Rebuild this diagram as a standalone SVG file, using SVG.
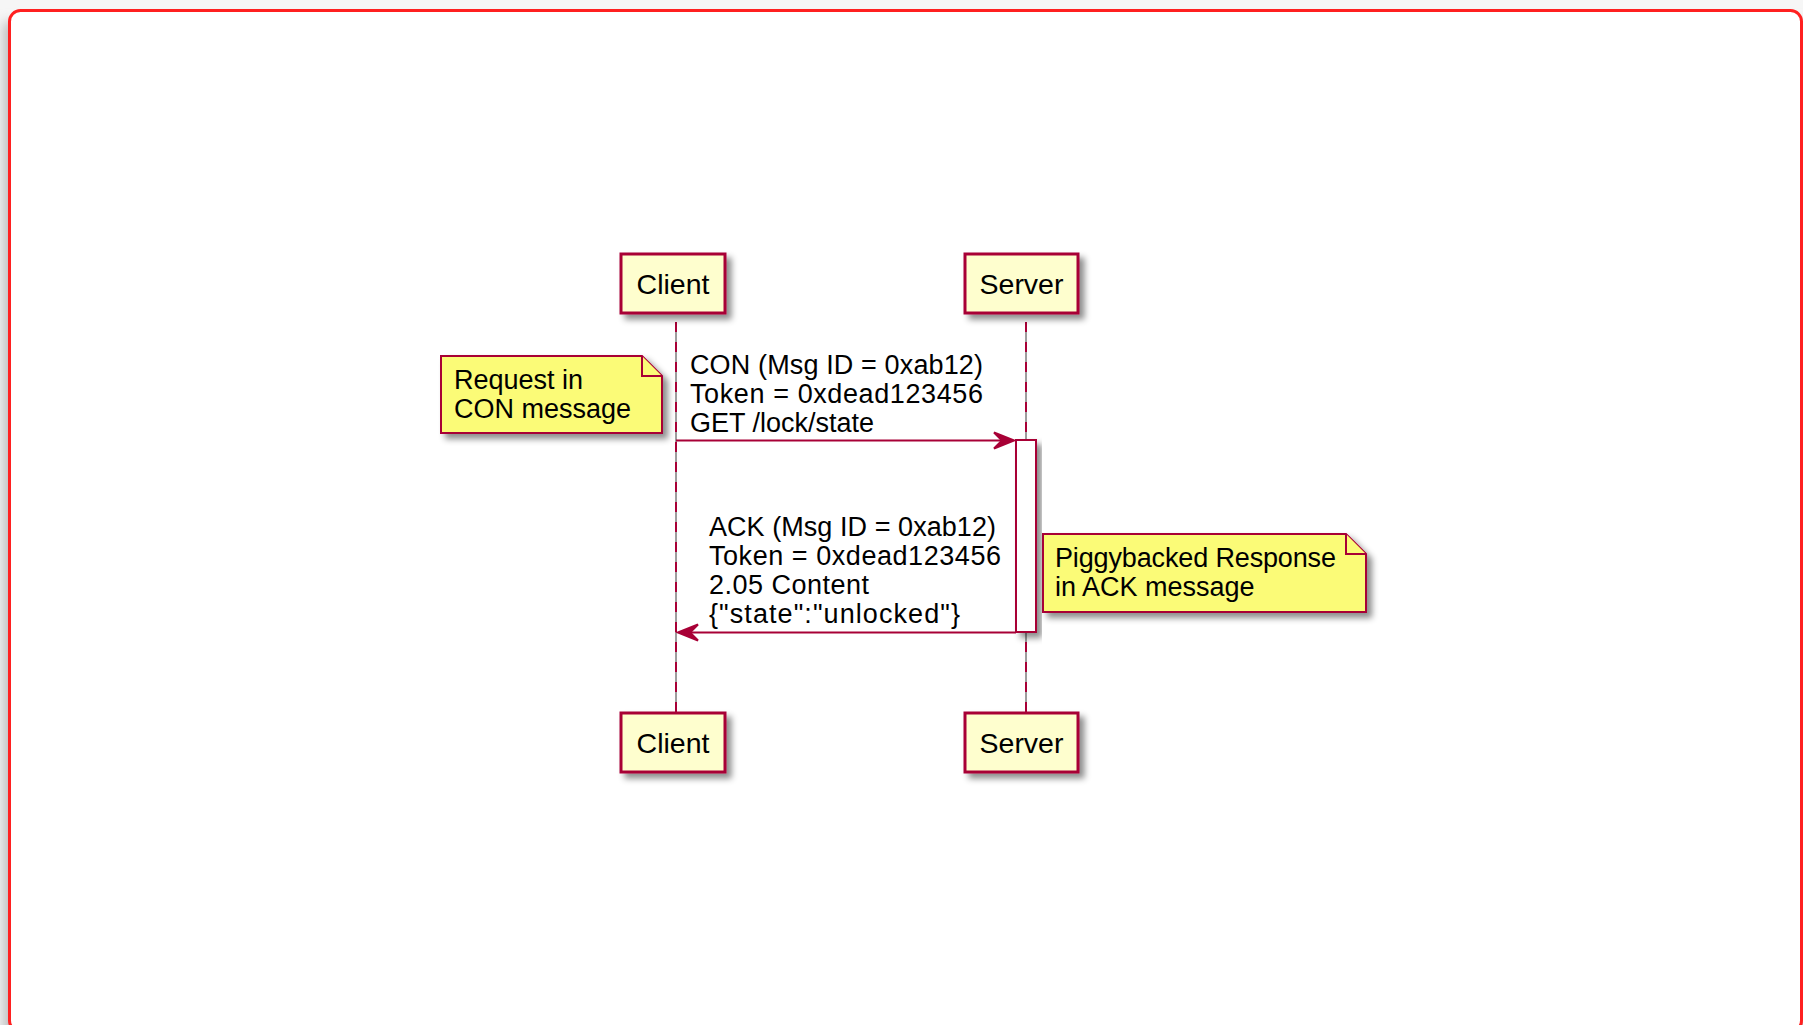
<svg xmlns="http://www.w3.org/2000/svg" width="1803" height="1025" viewBox="0 0 1803 1025">
  <defs>
    <filter id="shadow" x="-20%" y="-20%" width="150%" height="150%">
      <feDropShadow dx="5" dy="5" stdDeviation="3" flood-color="#000" flood-opacity="0.45"/>
    </filter>
    <filter id="frameShadow" x="-5%" y="-5%" width="110%" height="110%">
      <feGaussianBlur stdDeviation="6"/>
    </filter>
    <style>
      .participant { fill: #FEFECE; stroke: #A80036; stroke-width: 3; }
      .note { fill: #FBFB77; stroke: #A80036; stroke-width: 2; }
      .activation { fill: #FFFFFF; stroke: #A80036; stroke-width: 2; }
      .life-base { stroke: #3a3a3a; stroke-width: 1; }
      .life-dash { stroke: #A80036; stroke-width: 2; stroke-dasharray: 10 10; }
      .msg { stroke: #A80036; stroke-width: 2; fill: none; }
      .head { fill: #A80036; stroke: #A80036; stroke-width: 2; }
      text { font-family: "Liberation Sans", Arial, sans-serif; fill: #000; }
      .pname { font-size: 28.5px; }
      .label { font-size: 27px; }
    </style>
  </defs>

  <!-- page background and framed panel -->
  <rect x="0" y="0" width="1803" height="1025" fill="#f6f6f6"/>
  <rect x="3" y="22" width="1810" height="1030" fill="#bdbdbd" filter="url(#frameShadow)"/>
  <rect x="9.5" y="10.5" width="1792" height="1021" rx="11" ry="11" fill="#ffffff" stroke="#ff2020" stroke-width="3"/>

  <!-- lifelines -->
  <g id="lifelines">
    <line class="life-base" x1="676" y1="322" x2="676" y2="713"/>
    <line class="life-dash" x1="676" y1="322" x2="676" y2="713"/>
    <line class="life-base" x1="1026" y1="322" x2="1026" y2="713"/>
    <line class="life-dash" x1="1026" y1="322" x2="1026" y2="713"/>
  </g>

  <!-- participants -->
  <g id="client-top">
    <rect class="participant" x="621" y="254" width="104" height="59" filter="url(#shadow)"/>
    <text class="pname" x="673" y="294" text-anchor="middle">Client</text>
  </g>
  <g id="server-top">
    <rect class="participant" x="965" y="254" width="113" height="59" filter="url(#shadow)"/>
    <text class="pname" x="1021.5" y="294" text-anchor="middle">Server</text>
  </g>
  <g id="client-bottom">
    <rect class="participant" x="621" y="713" width="104" height="59" filter="url(#shadow)"/>
    <text class="pname" x="673" y="753" text-anchor="middle">Client</text>
  </g>
  <g id="server-bottom">
    <rect class="participant" x="965" y="713" width="113" height="59" filter="url(#shadow)"/>
    <text class="pname" x="1021.5" y="753" text-anchor="middle">Server</text>
  </g>

  <!-- server activation -->
  <g id="server-activation">
    <rect class="activation" x="1016" y="440" width="20" height="192" filter="url(#shadow)"/>
  </g>

  <!-- messages -->
  <g id="connectors">
    <line class="msg" x1="676" y1="440.5" x2="1012" y2="440.5"/>
    <polygon class="head" points="1014,440.5 994,432.5 1002,440.5 994,448.5"/>
    <text class="label" x="690" y="374" textLength="293" lengthAdjust="spacing">CON (Msg ID = 0xab12)</text>
    <text class="label" x="690" y="403" textLength="293" lengthAdjust="spacing">Token = 0xdead123456</text>
    <text class="label" x="690" y="432">GET /lock/state</text>

    <line class="msg" x1="1016" y1="632.5" x2="680" y2="632.5"/>
    <polygon class="head" points="678,632.5 698,624.5 690,632.5 698,640.5"/>
    <text class="label" x="709" y="536" textLength="287" lengthAdjust="spacing">ACK (Msg ID = 0xab12)</text>
    <text class="label" x="709" y="565" textLength="292" lengthAdjust="spacing">Token = 0xdead123456</text>
    <text class="label" x="709" y="594" textLength="160" lengthAdjust="spacing">2.05 Content</text>
    <text class="label" x="709" y="623" textLength="251" lengthAdjust="spacing">{"state":"unlocked"}</text>
  </g>

  <!-- notes -->
  <g id="note-request">
    <path class="note" d="M441,356 H642 L662,376 V433 H441 Z" filter="url(#shadow)"/>
    <path class="note" d="M642,356 V376 H662"/>
    <text class="label" x="454" y="389">Request in</text>
    <text class="label" x="454" y="418">CON message</text>
  </g>
  <g id="note-response">
    <path class="note" d="M1043,534 H1346 L1366,554 V612 H1043 Z" filter="url(#shadow)"/>
    <path class="note" d="M1346,534 V554 H1366"/>
    <text class="label" x="1055" y="567" textLength="281" lengthAdjust="spacing">Piggybacked Response</text>
    <text class="label" x="1055" y="596">in ACK message</text>
  </g>
</svg>
